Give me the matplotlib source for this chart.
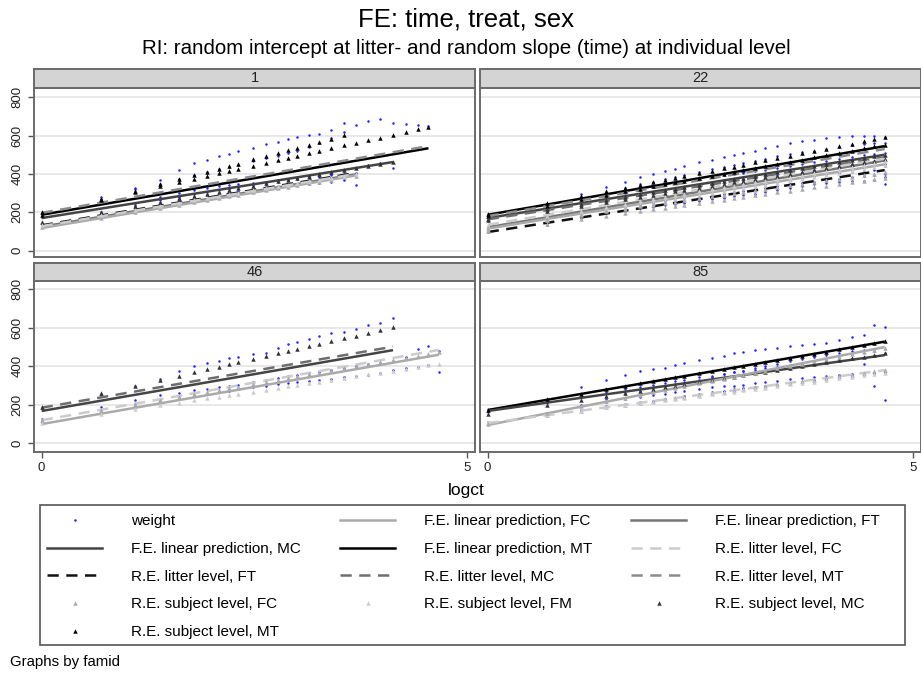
import numpy as np
import matplotlib
matplotlib.use("Agg")
import matplotlib.pyplot as plt
from matplotlib.lines import Line2D
from matplotlib.patches import Rectangle

plt.rcParams['font.family'] = ['Liberation Sans', 'DejaVu Sans']

# observation days (x axis is log of day count)
days = [1, 2, 3, 4, 5, 6, 7, 8, 9, 10, 12, 14, 16, 18, 20, 23, 26, 30, 35, 40,
        46, 53, 62, 72, 83, 94, 106]
famids = ['1', '22', '46', '85']

# fitted lines: (kind, group, value at day 1, value at last day, index of last day)
lines_1 = [('fe', 'MT', 187, 534, 25), ('fe', 'MC', 170, 462, 22),
           ('fe', 'FT', 125, 398, 19), ('fe', 'FC', 118, 392, 19),
           ('re', 'MT', 197, 545, 25), ('re', 'FT', 132, 405, 19),
           ('re', 'FC', 128, 400, 19)]
lines_22 = [('fe', 'MT', 187, 545, 26), ('fe', 'MC', 170, 500, 26),
            ('fe', 'FT', 122, 470, 26), ('fe', 'FC', 115, 450, 26),
            ('re', 'MT', 180, 530, 26), ('re', 'MC', 163, 487, 26),
            ('re', 'FC', 135, 480, 26), ('re', 'FT', 97, 420, 26)]
lines_46 = [('fe', 'MC', 168, 484, 22), ('re', 'MC', 185, 502, 22),
            ('fe', 'FC', 100, 460, 26), ('re', 'FC', 120, 485, 26)]
lines_85 = [('fe', 'MT', 173, 528, 26), ('fe', 'MC', 168, 458, 26),
            ('fe', 'FC', 95, 500, 26), ('re', 'FC', 105, 380, 26)]

# subjects: (group, subject intercept, subject slope, observed weights by day)
subjects_1 = [
    ('MT', 200, 98, [190, 270, 320, 350, 375, 395, 410, 425, 436, 448, 468, 482, 496,
                     508, 520, 540, 560, 585, 620, 655, 675, 684, 668, 660, 655, 650]),
    ('MT', 185, 117, [195, 280, 325, 370, 420, 456, 471, 492, 503, 518, 535, 554, 565,
                      580, 591, 601, 610, 630, 663]),
    ('MC', 150, 76, [175, 200, 250, 265, 280, 295, 305, 315, 322, 330, 340, 350, 358,
                     366, 372, 380, 390, 400, 415, 432, 445, 455, 430]),
    ('FC', 122, 73, [130, 180, 230, 250, 265, 280, 290, 300, 305, 312, 320, 330, 336,
                     340, 345, 350, 355, 360, 370, 340]),
    ('FT', 135, 72, [140, 190, 240, 280, 300, 315, 325, 335, 340, 345, 352, 360, 366,
                     372, 378, 382, 386, 392, 398, 405]),
]
subjects_22 = [
    ('MT', 190, 86, [185, 245, 295, 330, 360, 385, 400, 415, 428, 440, 460, 475, 490, 500,
                     510, 522, 535, 548, 560, 570, 578, 585, 592, 598, 600, 598, 595]),
    ('MT', 180, 80, [178, 230, 275, 300, 325, 345, 360, 372, 385, 395, 410, 425, 438, 448,
                     458, 470, 480, 492, 503, 512, 522, 532, 542, 550, 556, 560, 562]),
    ('MC', 165, 72, [170, 210, 255, 280, 300, 318, 330, 342, 352, 360, 372, 382, 392, 400,
                     406, 414, 422, 432, 442, 452, 462, 470, 480, 490, 498, 505, 510]),
    ('MC', 160, 68, [155, 200, 240, 262, 278, 292, 302, 312, 320, 328, 338, 348, 356, 362,
                     368, 376, 384, 392, 400, 410, 418, 428, 440, 452, 462, 468, 450]),
    ('FT', 130, 72, [125, 170, 215, 240, 258, 272, 285, 295, 302, 310, 322, 332, 342, 350,
                     356, 365, 374, 384, 395, 405, 415, 425, 435, 442, 448, 450, 440]),
    ('FT', 110, 72, [100, 150, 195, 220, 238, 252, 262, 272, 280, 288, 300, 310, 318, 326,
                     333, 342, 350, 360, 370, 380, 390, 398, 405, 410, 415, 418, 400]),
    ('FC', 120, 62, [118, 160, 195, 215, 228, 240, 250, 258, 265, 272, 282, 290, 298, 305,
                     312, 320, 328, 336, 345, 352, 360, 368, 375, 382, 388, 392, 385]),
    ('FC', 100, 60, [95, 135, 175, 195, 208, 220, 228, 236, 243, 250, 260, 268, 276, 283,
                     290, 298, 306, 315, 325, 335, 345, 352, 358, 362, 365, 368, 345]),
]
subjects_46 = [
    ('MC', 190, 100, [185, 250, 300, 335, 375, 402, 416, 427, 441, 450, 464, 470, 494,
                      515, 525, 541, 555, 572, 578, 595, 615, 624, 650]),
    ('FC', 120, 76, [125, 190, 225, 250, 262, 275, 282, 290, 298, 305, 318, 330, 340, 350,
                     356, 365, 372, 380, 392, 400, 410, 418, 430, 450, 490, 505, 480]),
    ('FT', 105, 66, [110, 160, 200, 222, 238, 250, 258, 265, 272, 280, 290, 300, 308, 315,
                     320, 325, 330, 335, 345, 350, 355, 365, 380, 392, 398, 405, 370]),
]
subjects_85 = [
    ('MT', 175, 76, [170, 225, 290, 330, 355, 375, 385, 392, 405, 417, 432, 445, 453, 467,
                     475, 484, 490, 494, 505, 510, 518, 521, 537, 553, 560, 612, 605]),
    ('MC', 150, 68, [165, 210, 240, 265, 280, 295, 305, 315, 322, 330, 342, 352, 360, 368,
                     375, 382, 390, 398, 405, 412, 420, 430, 445, 440, 410, 300, 225]),
    ('FC', 105, 59, [100, 140, 175, 195, 205, 215, 222, 230, 238, 245, 255, 265, 272, 280,
                     285, 290, 297, 305, 312, 320, 328, 336, 345, 352, 360, 365, 370]),
    ('FT', 110, 55, [105, 155, 195, 215, 228, 240, 250, 258, 265, 272, 280, 290, 296, 300,
                     305, 312, 318, 325, 332, 338, 344, 350, 355, 358, 362, 365, 368]),
    ('FC', 100, 85, [110, 160, 200, 230, 255, 270, 285, 296, 306, 315, 330, 345, 358, 368,
                     378, 390, 402, 414, 425, 436, 448, 458, 470, 478, 485, 480, 470]),
]

lines = {'1': lines_1, '22': lines_22, '46': lines_46, '85': lines_85}
subjects = {'1': subjects_1, '22': subjects_22, '46': subjects_46, '85': subjects_85}

fe_color = {'FC': '#aaaaaa', 'FT': '#777777', 'MC': '#444444', 'MT': '#000000'}
re_color = {'FC': '#cccccc', 'FT': '#111111', 'MC': '#6e6e6e', 'MT': '#8c8c8c'}
subj_color = {'FC': '#aaaaaa', 'FT': '#cccccc', 'MC': '#333333', 'MT': '#000000'}
dash = (0, (4.5, 3))
dot_kw = dict(ls='none', marker='o', ms=1.8, mew=0, color='#2222ff')
tri_kw = dict(ls='none', marker='^', ms=3.2, mew=0)

W, H = 921, 675
fig = plt.figure(figsize=(W / 100, H / 100), dpi=100)


def rect(x0, y0, x1, y1):
    return [x0 / W, 1 - y1 / H, (x1 - x0) / W, (y1 - y0) / H]


# pixel boxes for plot areas and strips
boxes = {'1': (34, 88, 475, 257), '22': (480, 88, 921, 257),
         '46': (34, 281, 475, 452), '85': (480, 281, 921, 452)}
strips = {'1': (34, 69, 475, 88), '22': (480, 69, 921, 88),
          '46': (34, 263, 475, 281), '85': (480, 263, 921, 281)}
ylims = {'1': (-33, 848), '22': (-33, 848), '46': (-45, 843), '85': (-45, 843)}

for fid in famids:
    ax = fig.add_axes(rect(*boxes[fid]))
    for grp, a, b, w in subjects[fid]:
        x = np.log(days[:len(w)])
        ax.plot(x, w, **dot_kw)
    for kind, grp, y0, y1, i in lines[fid]:
        xs = [0, np.log(days[i])]
        if kind == 'fe':
            ax.plot(xs, [y0, y1], color=fe_color[grp], lw=1.8, solid_capstyle='butt')
        else:
            ax.plot(xs, [y0, y1], color=re_color[grp], lw=1.8, ls=dash)
    for grp, a, b, w in subjects[fid]:
        x = np.log(days[:len(w)])
        ax.plot(x, a + b * x, color=subj_color[grp], **tri_kw)

    ax.set_xlim(-0.09, 5.09)
    ax.set_ylim(*ylims[fid])
    ax.set_yticks([0, 200, 400, 600, 800])
    ax.yaxis.grid(True, color='#e6e6e6', lw=1.3)
    ax.set_axisbelow(True)
    for s in ax.spines.values():
        s.set_color('#6a6a6a')
        s.set_linewidth(1.4)
    ax.tick_params(colors='#555555', labelcolor='#222222', length=4, width=1,
                   labelsize=9.5)
    if fid in ('1', '46'):
        ax.set_yticklabels(['0', '200', '400', '600', '800'], rotation=90, va='center')
    else:
        ax.tick_params(left=False, labelleft=False)
    if fid in ('46', '85'):
        ax.set_xticks([0, 5])
        ax.set_xticklabels(['0', '5'])
    else:
        ax.set_xticks([])

    sx = fig.add_axes(rect(*strips[fid]))
    sx.set_facecolor('#d4d4d4')
    sx.set_xticks([])
    sx.set_yticks([])
    for s in sx.spines.values():
        s.set_color('#6a6a6a')
        s.set_linewidth(1.4)
    sx.text(0.5, 0.5, fid, ha='center', va='center', fontsize=10.5, color='#222222',
            transform=sx.transAxes)

fig.text(466 / W, 1 - 20 / H, 'FE: time, treat, sex', ha='center', va='center',
         fontsize=18.5)
fig.text(466 / W, 1 - 48 / H,
         'RI: random intercept at litter- and random slope (time) at individual level',
         ha='center', va='center', fontsize=14.8)
fig.text(466 / W, 1 - 490 / H, 'logct', ha='center', va='center', fontsize=12.5)
fig.text(10 / W, 1 - 662 / H, 'Graphs by famid', ha='left', va='center', fontsize=10.8)

# legend, entries listed row by row
entries = [
    (Line2D([], [], **dot_kw), 'weight'),
    (Line2D([], [], color=fe_color['FC'], lw=1.8), 'F.E. linear prediction, FC'),
    (Line2D([], [], color=fe_color['FT'], lw=1.8), 'F.E. linear prediction, FT'),
    (Line2D([], [], color=fe_color['MC'], lw=1.8), 'F.E. linear prediction, MC'),
    (Line2D([], [], color=fe_color['MT'], lw=1.8), 'F.E. linear prediction, MT'),
    (Line2D([], [], color=re_color['FC'], lw=1.8, ls=dash), 'R.E. litter level, FC'),
    (Line2D([], [], color=re_color['FT'], lw=1.8, ls=dash), 'R.E. litter level, FT'),
    (Line2D([], [], color=re_color['MC'], lw=1.8, ls=dash), 'R.E. litter level, MC'),
    (Line2D([], [], color=re_color['MT'], lw=1.8, ls=dash), 'R.E. litter level, MT'),
    (Line2D([], [], color=subj_color['FC'], **tri_kw), 'R.E. subject level, FC'),
    (Line2D([], [], color=subj_color['FT'], **tri_kw), 'R.E. subject level, FM'),
    (Line2D([], [], color=subj_color['MC'], **tri_kw), 'R.E. subject level, MC'),
    (Line2D([], [], color=subj_color['MT'], **tri_kw), 'R.E. subject level, MT'),
]
order = [0, 3, 6, 9, 12, 1, 4, 7, 10, 2, 5, 8, 11]
fig.legend([entries[i][0] for i in order], [entries[i][1] for i in order],
           ncol=3, loc='upper left', bbox_to_anchor=(38 / W, 1 - 505 / H),
           fontsize=11, handlelength=3.6, handletextpad=1.9, columnspacing=2.55,
           labelspacing=0.9, borderpad=0.6, borderaxespad=0, frameon=False)
fig.patches.append(Rectangle((40 / W, 1 - 645 / H), 865 / W, 140 / H, fill=False,
                             edgecolor='#555555', lw=1.2, transform=fig.transFigure))

fig.savefig('out.png', dpi=100)
